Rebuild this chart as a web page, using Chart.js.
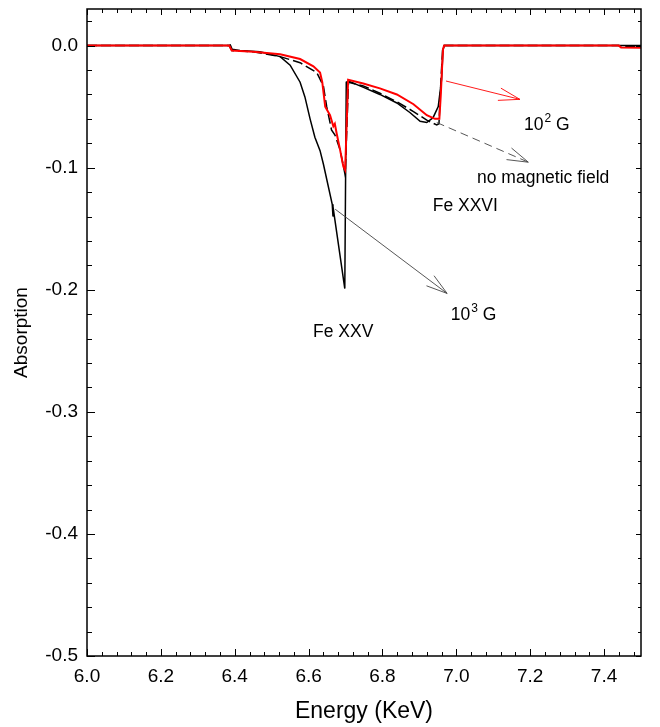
<!DOCTYPE html>
<html>
<head>
<meta charset="utf-8">
<script src="https://cdn.jsdelivr.net/npm/chart.js@4.4.0/dist/chart.umd.min.js"></script>
<style>
  body { margin: 0; background: #fff; }
  canvas { display: block; }
</style>
</head>
<body>
<canvas id="absorption-chart" width="660" height="727"></canvas>
<script>
// Tick labels
const xTicks = [6.0, 6.2, 6.4, 6.6, 6.8, 7.0, 7.2, 7.4];
const yTicks = [0.0, -0.1, -0.2, -0.3, -0.4, -0.5];

// 10^2 G (red)
const field2X = [6.000, 6.385, 6.392, 6.450, 6.523, 6.577, 6.613, 6.631, 6.637, 6.641, 6.645, 6.658,
    6.667, 6.671, 6.676, 6.685, 6.694, 6.699, 6.707, 6.748, 6.793, 6.839, 6.884, 6.920, 6.942,
    6.954, 6.958, 6.961, 6.964, 6.967, 7.440, 7.446, 7.500];
const field2Y = [0, 0, -0.004, -0.005, -0.007, -0.011, -0.017, -0.022, -0.030, -0.040, -0.050, -0.057,
    -0.066, -0.064, -0.072, -0.085, -0.099, -0.102, -0.028, -0.031, -0.035, -0.040, -0.048, -0.057, -0.060,
    -0.060, -0.040, -0.020, -0.003, 0, 0, -0.0015, -0.0018];

// no magnetic field (dashed)
const noFieldX = [6.000, 6.385, 6.392, 6.450, 6.523, 6.577, 6.622, 6.640, 6.649, 6.658, 6.662, 6.671,
    6.685, 6.699, 6.708, 6.748, 6.793, 6.839, 6.884, 6.920, 6.947, 6.953, 6.958, 6.963, 6.967,
    7.440, 7.446, 7.500];
const noFieldY = [0, 0, -0.004, -0.005, -0.009, -0.014, -0.022, -0.033, -0.050, -0.063, -0.069, -0.073,
    -0.085, -0.106, -0.030, -0.033, -0.039, -0.046, -0.054, -0.061, -0.065, -0.064, -0.030, -0.002, 0,
    0, -0.001, -0.001];

// 10^3 G (black solid)
const field3X = [6.000, 6.383, 6.388, 6.393, 6.414, 6.468, 6.523, 6.550, 6.577, 6.590, 6.604, 6.617,
    6.631, 6.640, 6.664, 6.666, 6.668, 6.698, 6.702, 6.708, 6.747, 6.793, 6.839, 6.875, 6.902,
    6.920, 6.937, 6.951, 6.960, 6.964, 6.968, 7.500];
const field3Y = [0, 0, 0.0005, -0.003, -0.004, -0.005, -0.009, -0.016, -0.030, -0.042, -0.060, -0.075,
    -0.086, -0.097, -0.130, -0.140, -0.136, -0.199, -0.030, -0.029, -0.034, -0.040, -0.047, -0.055, -0.062,
    -0.063, -0.059, -0.050, -0.028, -0.003, 0, 0];

// Annotation arrows and labels (data coordinates)
const arrows = [
    { from: [6.972, -0.029], to: [7.172, -0.044], color: '#ff0000', dash: [] },
    { from: [6.947, -0.063], to: [7.195, -0.0955], color: '#444444', dash: [8, 5] },
    { from: [6.672, -0.134], to: [6.975, -0.203], color: '#444444', dash: [] }
];
const labels = [
    { x: 7.183, y: -0.0689, text: '10', sup: '2', rest: ' G' },
    { x: 7.056, y: -0.1125, text: 'no magnetic field' },
    { x: 6.936, y: -0.1358, text: 'Fe XXVI' },
    { x: 6.985, y: -0.2246, text: '10', sup: '3', rest: ' G' },
    { x: 6.612, y: -0.2385, text: 'Fe XXV' }
];

function toPoints(xs, ys) {
    return xs.map((x, i) => ({ x: x, y: ys[i] }));
}

const FONT = '"Liberation Sans", Arial, sans-serif';

// Frame, inward ticks, arrows and text labels
const decorPlugin = {
    id: 'decor',
    afterDatasetsDraw(chart) {
        const { ctx, chartArea: a, scales: { x, y } } = chart;
        ctx.save();

        // minor/major ticks pointing inward on all four sides
        ctx.strokeStyle = '#000';
        ctx.lineWidth = 1;
        ctx.beginPath();
        for (let i = 0; i <= 37; i++) {
            const px = Math.round(x.getPixelForValue(6 + i * 0.04)) + 0.5;
            const major = i % 5 === 0;
            ctx.moveTo(px, a.bottom);
            ctx.lineTo(px, a.bottom - (major ? 7 : 4));
            ctx.moveTo(px, a.top);
            ctx.lineTo(px, a.top + (major ? 6 : 4));
        }
        for (let i = 0; i <= 26; i++) {
            const py = Math.round(y.getPixelForValue(-0.5 + i * 0.02)) + 0.5;
            const major = i % 5 === 0;
            ctx.moveTo(a.left, py);
            ctx.lineTo(a.left + (major ? 8 : 5), py);
            ctx.moveTo(a.right, py);
            ctx.lineTo(a.right - (major ? 5 : 3), py);
        }
        ctx.stroke();

        ctx.lineWidth = 1.5;
        ctx.strokeRect(a.left, a.top, a.right - a.left, a.bottom - a.top);

        // arrows
        arrows.forEach(ar => {
            const x0 = x.getPixelForValue(ar.from[0]), y0 = y.getPixelForValue(ar.from[1]);
            const x1 = x.getPixelForValue(ar.to[0]), y1 = y.getPixelForValue(ar.to[1]);
            const ang = Math.atan2(y1 - y0, x1 - x0);
            ctx.strokeStyle = ar.color;
            ctx.lineWidth = 0.9;
            ctx.setLineDash(ar.dash);
            ctx.beginPath();
            ctx.moveTo(x0, y0);
            ctx.lineTo(x1, y1);
            ctx.stroke();
            ctx.setLineDash([]);
            ctx.beginPath();
            [-0.29, 0.29].forEach(d => {
                ctx.moveTo(x1, y1);
                ctx.lineTo(x1 - 22 * Math.cos(ang + d), y1 - 22 * Math.sin(ang + d));
            });
            ctx.stroke();
        });

        // text labels
        ctx.fillStyle = '#000';
        ctx.textBaseline = 'alphabetic';
        ctx.textAlign = 'left';
        labels.forEach(lb => {
            let px = x.getPixelForValue(lb.x);
            const py = y.getPixelForValue(lb.y);
            ctx.font = '17.5px ' + FONT;
            ctx.fillText(lb.text, px, py);
            px += ctx.measureText(lb.text).width;
            if (lb.sup) {
                ctx.font = '12px ' + FONT;
                ctx.fillText(lb.sup, px + 1, py - 8);
                px += ctx.measureText(lb.sup).width + 1;
                ctx.font = '17.5px ' + FONT;
                ctx.fillText(lb.rest, px, py);
            }
        });

        ctx.restore();
    }
};

new Chart(document.getElementById('absorption-chart'), {
    type: 'line',
    data: {
        datasets: [
            {
                label: '10^2 G',
                data: toPoints(field2X, field2Y),
                borderColor: '#ff0000',
                borderWidth: 2
            },
            {
                label: 'no magnetic field',
                data: toPoints(noFieldX, noFieldY),
                borderColor: '#000000',
                borderWidth: 1.5,
                borderDash: [10, 4]
            },
            {
                label: '10^3 G',
                data: toPoints(field3X, field3Y),
                borderColor: '#000000',
                borderWidth: 1.5
            }
        ]
    },
    options: {
        responsive: false,
        animation: false,
        layout: { padding: { top: 9, right: 19, left: 0, bottom: 0 } },
        elements: {
            point: { radius: 0 },
            line: { tension: 0, fill: false }
        },
        plugins: {
            legend: { display: false },
            tooltip: { enabled: false }
        },
        scales: {
            x: {
                type: 'linear',
                min: 6.0,
                max: 7.5,
                grid: { display: false, drawTicks: false },
                border: { display: false },
                afterBuildTicks: axis => { axis.ticks = xTicks.map(v => ({ value: v })); },
                afterFit: axis => { axis.height = 71; axis.paddingLeft = 0; axis.paddingRight = 0; },
                ticks: {
                    color: '#000',
                    padding: 9,
                    maxRotation: 0,
                    font: { family: FONT, size: 19 },
                    callback: v => v.toFixed(1)
                },
                title: {
                    display: true,
                    text: 'Energy (KeV)',
                    color: '#000',
                    font: { family: FONT, size: 23 },
                    padding: { top: 0, bottom: 2 }
                }
            },
            y: {
                type: 'linear',
                min: -0.5,
                max: 0.03,
                grid: { display: false, drawTicks: false },
                border: { display: false },
                afterBuildTicks: axis => { axis.ticks = yTicks.map(v => ({ value: v })); },
                afterFit: axis => { axis.width = 87; axis.paddingTop = 0; axis.paddingBottom = 0; },
                ticks: {
                    color: '#000',
                    padding: 9,
                    font: { family: FONT, size: 19 },
                    callback: v => (Math.abs(v) < 1e-9 ? '0.0' : v.toFixed(1))
                },
                title: {
                    display: true,
                    text: 'Absorption',
                    color: '#000',
                    font: { family: FONT, size: 19 },
                    padding: { top: 10, bottom: 0 }
                }
            }
        }
    },
    plugins: [decorPlugin]
});
</script>
</body>
</html>
